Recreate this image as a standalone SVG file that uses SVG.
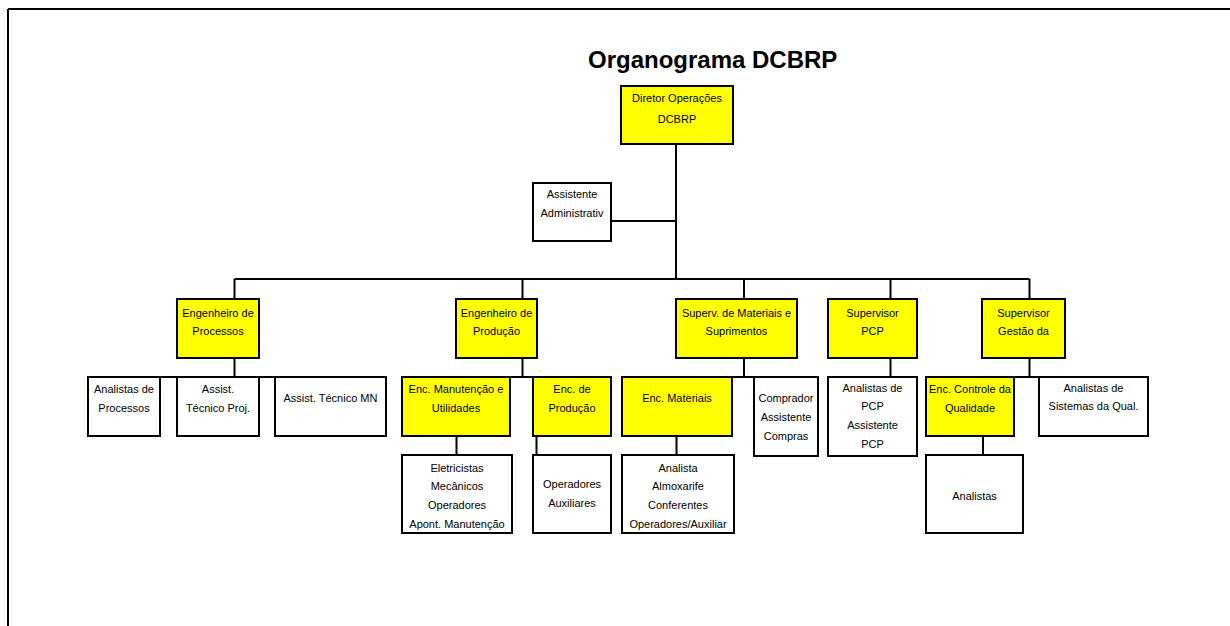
<svg xmlns="http://www.w3.org/2000/svg" width="1230" height="626" viewBox="0 0 1230 626">
<style>
.y{fill:#ffff00;stroke:#000;stroke-width:2}
.w{fill:#fff;stroke:#000;stroke-width:2}
.c{fill:none;stroke:#000;stroke-width:2}
text{font-family:"Liberation Sans",Arial,sans-serif;font-size:11px;fill:#000;text-anchor:middle}
.t{font-size:24px;font-weight:bold;text-anchor:start}
</style>
<rect width="1230" height="626" fill="#fff"/>
<path class="c" d="M8 9H1230M8 9V626"/>
<text class="t" x="588" y="68">Organograma DCBRP</text>
<g id="connectors">
<path class="c" d="M676 144V279M611 221H676M234.5 279H1029.5M234.5 279V299M522.5 279V299M744 279V299M890.5 279V299M1029.5 279V299"/>
<path class="c" d="M234.5 358V377M88 377H386M522.5 358V377M402 377H611M456.5 436V455M536.5 436V455M744 358V377M622 377H818M676.5 436V455M890.5 358V377M1029.5 358V377M926 377H1148M983 436V455"/>
</g>
<g id="dir"><rect class="y" x="621" y="86" width="112" height="58"/><text x="677" y="102">Diretor Operações</text><text x="677" y="123">DCBRP</text></g>
<g id="asst"><rect class="w" x="533" y="183" width="78" height="58"/><text x="572" y="198">Assistente</text><text x="572" y="216.5">Administrativ</text></g>
<g id="engproc"><rect class="y" x="177" y="299" width="82" height="59"/><text x="218" y="316.5">Engenheiro de</text><text x="218" y="334.5">Processos</text></g>
<g id="engprod"><rect class="y" x="456" y="299" width="81" height="59"/><text x="496.5" y="316.5">Engenheiro de</text><text x="496.5" y="334.5">Produção</text></g>
<g id="superv"><rect class="y" x="676" y="299" width="121" height="59"/><text x="736.5" y="316.5">Superv. de Materiais e</text><text x="736.5" y="334.5">Suprimentos</text></g>
<g id="suppcp"><rect class="y" x="828" y="299" width="89" height="59"/><text x="872.5" y="316.5">Supervisor</text><text x="872.5" y="334.5">PCP</text></g>
<g id="supgest"><rect class="y" x="982" y="299" width="83" height="59"/><text x="1023.5" y="316.5">Supervisor</text><text x="1023.5" y="334.5">Gestão da</text></g>
<g id="anproc"><rect class="w" x="88" y="377" width="72" height="59"/><text x="124" y="393">Analistas de</text><text x="124" y="411.5">Processos</text></g>
<g id="assproj"><rect class="w" x="177" y="377" width="82" height="59"/><text x="218" y="393">Assist.</text><text x="218" y="411.5">Técnico Proj.</text></g>
<g id="assmn"><rect class="w" x="275" y="377" width="111" height="59"/><text x="330.5" y="401.5">Assist. Técnico MN</text></g>
<g id="encman"><rect class="y" x="402" y="377" width="108" height="59"/><text x="456" y="393">Enc. Manutenção e</text><text x="456" y="411.5">Utilidades</text></g>
<g id="encprod"><rect class="y" x="533" y="377" width="78" height="59"/><text x="572" y="393">Enc. de</text><text x="572" y="411.5">Produção</text></g>
<g id="encmat"><rect class="y" x="622" y="377" width="110" height="59"/><text x="677" y="401.5">Enc. Materiais</text></g>
<g id="comprador"><rect class="w" x="754" y="377" width="64" height="79"/><text x="786" y="401.5">Comprador</text><text x="786" y="420.5">Assistente</text><text x="786" y="439.5">Compras</text></g>
<g id="anpcp"><rect class="w" x="828" y="377" width="89" height="79"/><text x="872.5" y="391.5">Analistas de</text><text x="872.5" y="410">PCP</text><text x="872.5" y="429">Assistente</text><text x="872.5" y="447.5">PCP</text></g>
<g id="encqual"><rect class="y" x="926" y="377" width="88" height="59"/><text x="970" y="393">Enc. Controle da</text><text x="970" y="411.5">Qualidade</text></g>
<g id="ansist"><rect class="w" x="1039" y="377" width="109" height="59"/><text x="1093.5" y="391.5">Analistas de</text><text x="1093.5" y="410">Sistemas da Qual.</text></g>
<g id="eletr"><rect class="w" x="402" y="455" width="110" height="78"/><text x="457" y="471.5">Eletricistas</text><text x="457" y="490">Mecânicos</text><text x="457" y="509">Operadores</text><text x="457" y="527.5">Apont. Manutenção</text></g>
<g id="opaux"><rect class="w" x="533" y="455" width="78" height="78"/><text x="572" y="488">Operadores</text><text x="572" y="506.5">Auxiliares</text></g>
<g id="analista"><rect class="w" x="622" y="455" width="112" height="78"/><text x="678" y="471.5">Analista</text><text x="678" y="490">Almoxarife</text><text x="678" y="509">Conferentes</text><text x="678" y="527.5">Operadores/Auxiliar</text></g>
<g id="analistas"><rect class="w" x="926" y="455" width="97" height="78"/><text x="974.5" y="500">Analistas</text></g>
</svg>
